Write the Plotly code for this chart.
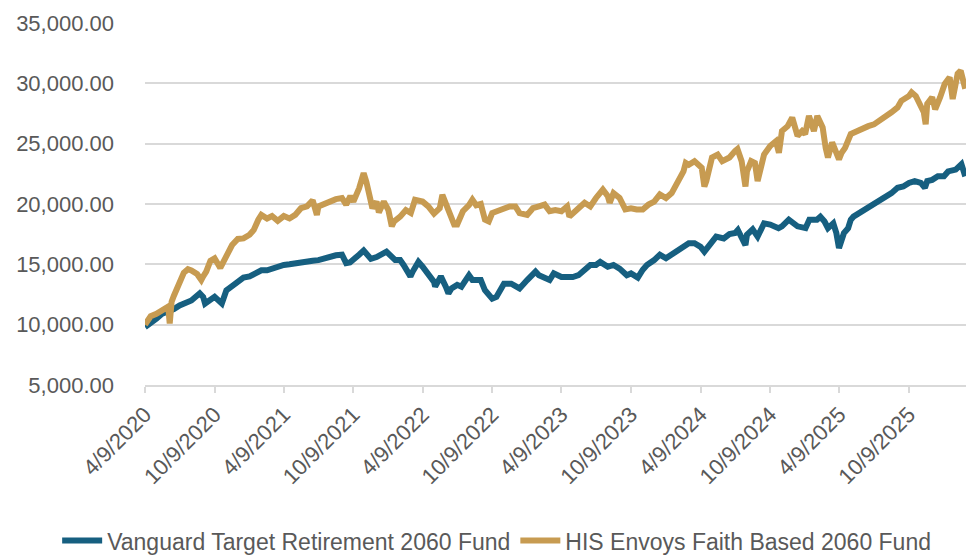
import plotly.graph_objects as go

# ---- Data ----
vanguard_dates = [
    "2020-04-09", "2020-04-24", "2020-05-09", "2020-05-24", "2020-06-09", "2020-06-24",
    "2020-07-09", "2020-07-24", "2020-08-09", "2020-08-31", "2020-09-09", "2020-09-14",
    "2020-09-24", "2020-10-09", "2020-10-28", "2020-11-09", "2020-11-24", "2020-12-09",
    "2020-12-24", "2021-01-09", "2021-01-24", "2021-02-09", "2021-02-24", "2021-03-09",
    "2021-03-24", "2021-04-09", "2021-04-24", "2021-05-09", "2021-05-24", "2021-06-09",
    "2021-06-24", "2021-07-09", "2021-07-24", "2021-08-09", "2021-08-24", "2021-09-09",
    "2021-09-20", "2021-09-30", "2021-10-09", "2021-10-24", "2021-11-05", "2021-11-09",
    "2021-11-24", "2021-12-09", "2021-12-24", "2022-01-04", "2022-01-27", "2022-02-09",
    "2022-02-18", "2022-03-08", "2022-03-14", "2022-03-29", "2022-04-09", "2022-04-24",
    "2022-05-09", "2022-05-12", "2022-05-27", "2022-06-09", "2022-06-16", "2022-06-24",
    "2022-07-09", "2022-07-20", "2022-08-09", "2022-08-18", "2022-09-09", "2022-09-20",
    "2022-10-09", "2022-10-20", "2022-11-09", "2022-11-28", "2022-12-09", "2022-12-20",
    "2023-01-09", "2023-01-31", "2023-02-09", "2023-02-24", "2023-03-09", "2023-03-20",
    "2023-04-09", "2023-04-24", "2023-05-09", "2023-05-24", "2023-06-09", "2023-06-24",
    "2023-07-09", "2023-07-20", "2023-08-09", "2023-08-24", "2023-09-09", "2023-09-28",
    "2023-10-09", "2023-10-27", "2023-11-09", "2023-11-20", "2023-12-09", "2023-12-24",
    "2024-01-09", "2024-01-24", "2024-02-09", "2024-02-24", "2024-03-01", "2024-03-09",
    "2024-03-24", "2024-04-09", "2024-04-19", "2024-05-09", "2024-05-20", "2024-06-09",
    "2024-06-24", "2024-07-09", "2024-07-16", "2024-08-05", "2024-08-09", "2024-08-24",
    "2024-09-06", "2024-09-23", "2024-10-09", "2024-10-31", "2024-11-09", "2024-11-27",
    "2024-12-09", "2024-12-20", "2025-01-10", "2025-01-20", "2025-02-09", "2025-02-18",
    "2025-03-01", "2025-03-10", "2025-03-24", "2025-04-01", "2025-04-08", "2025-04-11",
    "2025-04-21", "2025-05-02", "2025-05-09", "2025-05-16", "2025-06-09", "2025-06-24",
    "2025-07-09", "2025-07-24", "2025-08-09", "2025-08-24", "2025-09-09", "2025-09-24",
    "2025-10-09", "2025-10-24", "2025-11-09", "2025-11-20", "2025-11-26", "2025-12-09",
    "2025-12-24", "2026-01-09", "2026-01-20", "2026-02-09", "2026-02-24", "2026-03-06",
]
vanguard_values = [
    9800, 10100, 10500, 10900, 11050, 11300,
    11600, 11800, 12000, 12600, 12300, 11750,
    12000, 12300, 11750, 12850, 13200, 13550,
    13900, 14000, 14250, 14500, 14500, 14650,
    14700, 14950, 15000, 15100, 15200, 15300,
    15300, 15350, 15500, 15650, 15750, 15800,
    15100, 15150, 15450, 15800, 16150, 16000,
    15450, 15600, 15900, 16050, 15350, 15350,
    14950, 14000, 14400, 15200, 14800, 14250,
    13550, 13150, 14000, 13150, 12600, 13000,
    13300, 13150, 14100, 13700, 13700, 12850,
    12150, 12300, 13400, 13400, 13150, 13000,
    13700, 14400, 14100, 13850, 13700, 14250,
    13950, 13950, 13950, 14100, 14550, 14950,
    14950, 15200, 14800, 14950, 14650, 14100,
    14250, 13900, 14550, 14950, 15350, 15800,
    15500, 15800, 16200, 16450, 16600, 16750,
    16750, 16450, 16050, 17000, 17300, 17150,
    17500, 17600, 17850, 16600, 17450, 17900,
    17300, 18400, 18300, 18000, 18150, 18700,
    18400, 18150, 18000, 18700, 18700, 18950,
    18550, 18000, 18400, 17600, 16350, 16750,
    17600, 18000, 18700, 18950, 19400, 19800,
    20100, 20350, 20650, 20900, 21350, 21450,
    21750, 21900, 21750, 21350, 21900, 22000,
    22300, 22300, 22700, 22850, 23300, 22300,
]

envoys_dates = [
    "2020-04-09", "2020-04-24", "2020-05-09", "2020-05-24", "2020-06-09", "2020-06-13",
    "2020-06-18", "2020-06-24", "2020-07-09", "2020-07-20", "2020-07-31", "2020-08-09",
    "2020-08-24", "2020-09-04", "2020-09-09", "2020-09-17", "2020-09-28", "2020-10-09",
    "2020-10-24", "2020-11-09", "2020-11-24", "2020-12-09", "2020-12-24", "2021-01-09",
    "2021-01-20", "2021-02-01", "2021-02-09", "2021-02-24", "2021-03-09", "2021-03-24",
    "2021-04-09", "2021-04-24", "2021-05-09", "2021-05-24", "2021-06-09", "2021-06-24",
    "2021-07-05", "2021-07-09", "2021-07-24", "2021-08-09", "2021-08-24", "2021-09-09",
    "2021-09-20", "2021-10-01", "2021-10-09", "2021-10-24", "2021-11-05", "2021-11-12",
    "2021-11-20", "2021-11-28", "2021-12-09", "2021-12-15", "2021-12-28", "2022-01-09",
    "2022-01-18", "2022-01-24", "2022-02-09", "2022-02-24", "2022-03-09", "2022-03-20",
    "2022-04-09", "2022-04-24", "2022-05-09", "2022-05-24", "2022-05-31", "2022-06-09",
    "2022-06-20", "2022-07-01", "2022-07-09", "2022-07-24", "2022-08-09", "2022-08-18",
    "2022-08-28", "2022-09-09", "2022-09-20", "2022-09-30", "2022-10-09", "2022-10-24",
    "2022-11-09", "2022-11-24", "2022-12-09", "2022-12-20", "2023-01-09", "2023-01-24",
    "2023-02-09", "2023-02-24", "2023-03-09", "2023-03-24", "2023-04-09", "2023-04-24",
    "2023-04-30", "2023-05-09", "2023-05-24", "2023-06-09", "2023-06-24", "2023-07-09",
    "2023-07-27", "2023-08-09", "2023-08-14", "2023-08-24", "2023-09-09", "2023-09-24",
    "2023-10-09", "2023-10-24", "2023-11-09", "2023-11-24", "2023-12-09", "2023-12-24",
    "2024-01-09", "2024-01-24", "2024-02-09", "2024-02-24", "2024-03-01", "2024-03-09",
    "2024-03-24", "2024-04-12", "2024-04-19", "2024-04-24", "2024-05-09", "2024-05-24",
    "2024-06-05", "2024-06-24", "2024-07-09", "2024-07-15", "2024-07-26", "2024-08-05",
    "2024-08-09", "2024-08-20", "2024-08-30", "2024-09-06", "2024-09-23", "2024-10-09",
    "2024-10-24", "2024-11-01", "2024-11-09", "2024-11-24", "2024-12-06", "2024-12-09",
    "2024-12-20", "2025-01-01", "2025-01-09", "2025-01-19", "2025-02-01", "2025-02-10",
    "2025-02-24", "2025-03-04", "2025-03-10", "2025-03-21", "2025-04-08", "2025-04-15",
    "2025-04-24", "2025-05-09", "2025-05-24", "2025-06-09", "2025-06-24", "2025-07-09",
    "2025-07-24", "2025-08-09", "2025-08-24", "2025-09-09", "2025-09-19", "2025-10-09",
    "2025-10-16", "2025-10-27", "2025-11-09", "2025-11-17", "2025-11-22", "2025-11-26",
    "2025-12-09", "2025-12-17", "2025-12-30", "2026-01-11", "2026-01-24", "2026-02-01",
    "2026-02-14", "2026-02-22", "2026-03-06",
]
envoys_values = [
    10000, 10700, 10900, 11200, 11500, 10100,
    11900, 12400, 13400, 14300, 14600, 14500,
    14200, 13700, 14000, 14400, 15300, 15500,
    14700, 15700, 16600, 17100, 17150, 17450,
    17850, 18700, 19100, 18800, 19000, 18600,
    19000, 18800, 19100, 19650, 19800, 20300,
    19100, 19800, 20000, 20300, 20400, 20500,
    19950, 20650, 20200, 21300, 22550, 21850,
    20650, 19650, 20200, 19300, 20200, 19500,
    18150, 18550, 18950, 19500, 19250, 20350,
    20200, 19800, 19200, 19650, 20750, 20050,
    19250, 18300, 18300, 19400, 19900, 20350,
    19900, 20000, 18700, 18550, 19250, 19400,
    19650, 19800, 19800, 19250, 19100, 19650,
    19800, 19950, 19400, 19500, 19400, 19800,
    18950, 19250, 19650, 20100, 19800, 20500,
    21200, 20650, 20100, 20900, 20500, 19550,
    19650, 19550, 19550, 19950, 20200, 20800,
    20500, 20900, 21900, 22700, 23400, 23250,
    23550, 23000, 21450, 21900, 23850, 24100,
    23550, 23850, 24400, 24550, 23550, 21450,
    22700, 23550, 23400, 21900, 24100, 24800,
    25200, 24250, 26050, 26450, 27150, 26750,
    25650, 26050, 25800, 27300, 26050, 27300,
    26350, 24650, 23850, 25100, 23700, 24250,
    24650, 25800, 26050, 26200, 26450, 26600,
    26900, 27300, 27600, 28000, 28550, 28950,
    29250, 28950, 28000, 27600, 26600, 28300,
    28850, 27850, 28850, 29950, 30500, 28700,
    30800, 31050, 29550,
]

tick_dates = [
    "2020-04-09", "2020-10-09", "2021-04-09", "2021-10-09", "2022-04-09", "2022-10-09",
    "2023-04-09", "2023-10-09", "2024-04-09", "2024-10-09", "2025-04-09", "2025-10-09",
]
tick_labels = [
    "4/9/2020", "10/9/2020", "4/9/2021", "10/9/2021", "4/9/2022", "10/9/2022",
    "4/9/2023", "10/9/2023", "4/9/2024", "10/9/2024", "4/9/2025", "10/9/2025",
]
series_names = ["Vanguard Target Retirement 2060 Fund", "HIS Envoys Faith Based 2060 Fund"]

BLUE = "#165f80"
GOLD = "#c79b51"
TEXT = "#595959"
GRID = "#d9d9d9"

fig = go.Figure()
fig.add_trace(go.Scatter(x=vanguard_dates, y=vanguard_values, mode="lines",
                         name=series_names[0], line=dict(color=BLUE, width=6)))
fig.add_trace(go.Scatter(x=envoys_dates, y=envoys_values, mode="lines",
                         name=series_names[1], line=dict(color=GOLD, width=6)))

fig.update_layout(
    width=966, height=557,
    margin=dict(l=145, r=0, t=23, b=172, autoexpand=False),
    paper_bgcolor="white", plot_bgcolor="white",
    font=dict(family="Liberation Sans, Arial, sans-serif", size=22, color=TEXT),
    showlegend=True,
    legend=dict(orientation="h", x=-0.107, xanchor="left", y=-0.43, yanchor="middle",
                font=dict(size=23, color=TEXT), traceorder="normal", itemwidth=40,
                tracegroupgap=0),
)
fig.update_xaxes(
    type="date", range=["2020-04-09", "2026-03-08"],
    tickvals=tick_dates, ticktext=tick_labels, tickangle=-45,
    showgrid=False, showline=True, linecolor=GRID, linewidth=2,
    ticks="outside", ticklen=6, tickcolor=GRID, tickwidth=2,
    zeroline=False, automargin=False, tickfont=dict(size=22, color=TEXT),
)
fig.update_yaxes(
    range=[5000, 35000], dtick=5000, tick0=5000, tickformat=",.2f",
    showgrid=True, gridcolor=GRID, gridwidth=2, zeroline=False,
    showline=False, ticks="", ticklabelstandoff=30, automargin=False,
    tickfont=dict(size=22, color=TEXT),
)

fig.write_html("out.html", config={"displayModeBar": False},
               post_script="document.body.style.margin='0px';")
